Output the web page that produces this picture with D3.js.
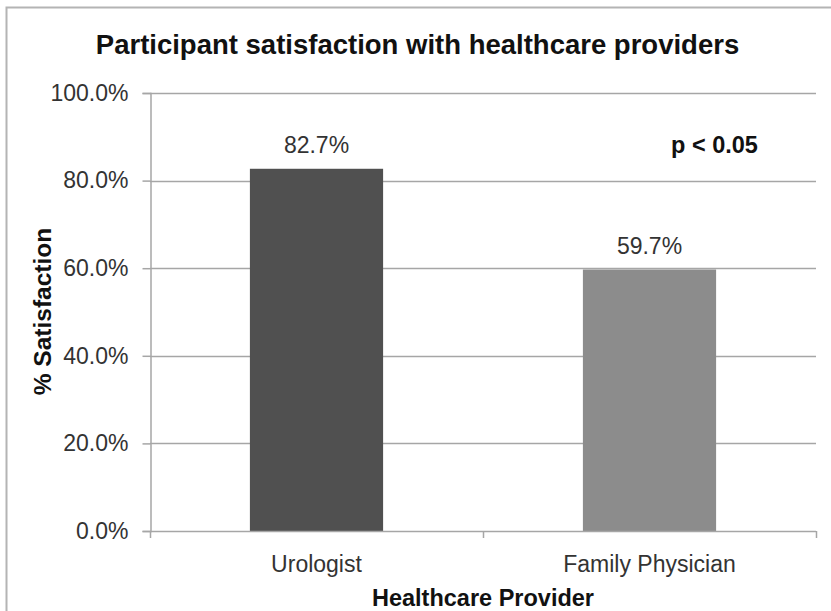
<!DOCTYPE html>
<html>
<head>
<meta charset="utf-8">
<script src="https://cdn.jsdelivr.net/npm/d3@7"></script>
<style>
  html, body { margin: 0; padding: 0; background: #fff; }
  svg { display: block; font-family: "Liberation Sans", Arial, sans-serif; }
</style>
</head>
<body>
<svg id="chart" width="831" height="611"></svg>
<script>
// Chart data
const categories = ["Urologist", "Family Physician"];
const satisfaction = [82.7, 59.7];
const barColors = ["#505050", "#8c8c8c"];
const yTicks = [0, 20, 40, 60, 80, 100];

const svg = d3.select("#chart");
const W = 831, H = 611;
const plotLeft = 150, plotRight = 816, plotTop = 93, plotBottom = 531;
const axisColor = "#a6a6a6";

// Outer frame (only the top and left edges fall inside the canvas)
svg.append("rect")
  .attr("x", 6.5).attr("y", 7.5)
  .attr("width", W + 20).attr("height", H + 20)
  .attr("fill", "none").attr("stroke", "#b4b4b4").attr("stroke-width", 2);

const x = d3.scaleBand()
  .domain(categories)
  .range([plotLeft, plotRight])
  .paddingInner(0.6)
  .paddingOuter(0.3);

const y = d3.scaleLinear().domain([0, 100]).range([plotBottom, plotTop]);

const fmt = d => d.toFixed(1) + "%";

// Horizontal gridlines
svg.append("g")
  .selectAll("line")
  .data(yTicks.filter(d => d > 0))
  .join("line")
  .attr("x1", plotLeft).attr("x2", plotRight)
  .attr("y1", d => Math.round(y(d)) + 0.5).attr("y2", d => Math.round(y(d)) + 0.5)
  .attr("stroke", axisColor).attr("stroke-width", 1.5);

// Bars
svg.append("g")
  .selectAll("rect")
  .data(categories)
  .join("rect")
  .attr("x", d => x(d))
  .attr("width", x.bandwidth())
  .attr("y", (d, i) => y(satisfaction[i]))
  .attr("height", (d, i) => y(0) - y(satisfaction[i]))
  .attr("fill", (d, i) => barColors[i]);

// Y axis
const yAxis = svg.append("g")
  .attr("transform", `translate(${plotLeft + 0.5},0)`)
  .call(d3.axisLeft(y).tickValues(yTicks).tickFormat(fmt).tickSize(8).tickPadding(14));
yAxis.select(".domain").attr("stroke", axisColor).attr("stroke-width", 1.5);
yAxis.selectAll(".tick line").attr("stroke", axisColor).attr("stroke-width", 1.5);
yAxis.selectAll(".tick text")
  .attr("font-size", 23).attr("fill", "#333")
  .attr("font-family", "Liberation Sans, Arial, sans-serif");

// X axis: boundary ticks between categories, as in spreadsheet charts
const bounds = [plotLeft, (x(categories[0]) + x.bandwidth() + x(categories[1])) / 2, plotRight];
svg.append("line")
  .attr("x1", plotLeft).attr("x2", plotRight)
  .attr("y1", plotBottom + 0.5).attr("y2", plotBottom + 0.5)
  .attr("stroke", axisColor).attr("stroke-width", 1.5);
svg.append("g")
  .selectAll("line")
  .data(bounds)
  .join("line")
  .attr("x1", d => Math.round(d) + 0.5).attr("x2", d => Math.round(d) + 0.5)
  .attr("y1", plotBottom).attr("y2", plotBottom + 7)
  .attr("stroke", axisColor).attr("stroke-width", 1.5);

// Category labels
svg.append("g")
  .selectAll("text")
  .data(categories)
  .join("text")
  .attr("x", d => x(d) + x.bandwidth() / 2)
  .attr("y", 572)
  .attr("text-anchor", "middle")
  .attr("font-size", 23).attr("fill", "#333")
  .text(d => d);

// Value labels
svg.append("g")
  .selectAll("text")
  .data(categories)
  .join("text")
  .attr("x", d => x(d) + x.bandwidth() / 2)
  .attr("y", (d, i) => y(satisfaction[i]) - 16)
  .attr("text-anchor", "middle")
  .attr("font-size", 23).attr("fill", "#333")
  .text((d, i) => fmt(satisfaction[i]));

// Significance note
svg.append("text")
  .attr("x", 714.5).attr("y", 153)
  .attr("text-anchor", "middle")
  .attr("font-size", 23.5).attr("font-weight", "bold").attr("fill", "#111")
  .text("p < 0.05");

// Title
svg.append("text")
  .attr("x", 417.5).attr("y", 54)
  .attr("text-anchor", "middle")
  .attr("font-size", 27.5).attr("font-weight", "bold").attr("fill", "#111")
  .text("Participant satisfaction with healthcare providers");

// Axis titles
svg.append("text")
  .attr("x", 483).attr("y", 606)
  .attr("text-anchor", "middle")
  .attr("font-size", 23.5).attr("font-weight", "bold").attr("fill", "#111")
  .text("Healthcare Provider");

svg.append("text")
  .attr("transform", "translate(51,311.5) rotate(-90)")
  .attr("text-anchor", "middle")
  .attr("font-size", 24.5).attr("font-weight", "bold").attr("fill", "#111")
  .text("% Satisfaction");
</script>
</body>
</html>
